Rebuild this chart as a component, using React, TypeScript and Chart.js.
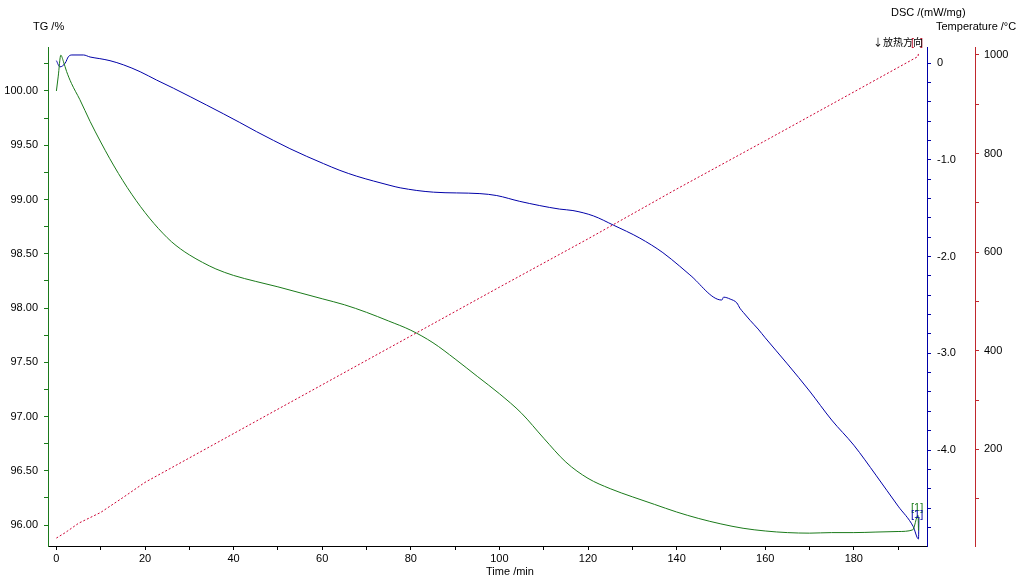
import React, { useEffect, useRef } from 'react';
import { Chart, registerables } from 'chart.js';

Chart.register(...registerables);

// TG curve (time /min, TG /%)
const tgTime = [0, 0.4, 1.0, 1.6, 2.3, 3.4, 5.3, 7.6, 10, 12, 14, 16, 18, 20, 22, 24, 26, 28, 30, 33, 36, 40, 45, 50, 55, 60, 65, 70, 75, 80, 85, 90, 95, 100, 105, 110, 115, 120, 125, 130, 135, 140, 145, 150, 155, 160, 165, 170, 175, 180, 185, 190, 193.3, 194.5, 194.6];
const tgValues = [100.0, 100.13, 100.33, 100.27, 100.18, 100.07, 99.92, 99.72, 99.53, 99.38, 99.24, 99.11, 98.99, 98.88, 98.78, 98.69, 98.61, 98.545, 98.49, 98.42, 98.36, 98.3, 98.245, 98.195, 98.14, 98.085, 98.03, 97.96, 97.88, 97.795, 97.68, 97.53, 97.37, 97.21, 97.03, 96.8, 96.58, 96.43, 96.335, 96.26, 96.19, 96.12, 96.06, 96.01, 95.97, 95.945, 95.93, 95.925, 95.93, 95.93, 95.935, 95.94, 95.955, 96.09, 95.95];

// DSC curve (time /min, DSC /(mW/mg))
const dscTime = [0, 0.8, 2.0, 2.7, 3.5, 6.1, 7.6, 9.8, 12.1, 15.2, 18.9, 22.6, 26.4, 30.2, 33.9, 37.7, 41.4, 45.2, 49.0, 52.7, 56.5, 60.3, 64.0, 67.8, 71.6, 75.3, 77.6, 85.1, 95.6, 99.4, 104.6, 113.6, 116.6, 121.2, 125.7, 131.7, 136.9, 140.7, 143.0, 150.2, 150.6, 152.1, 153.6, 154.3, 155.1, 156.6, 158.4, 160, 165, 170, 175, 180, 185, 190, 193.4, 194.6, 194.7];
const dscValues = [0.024, -0.04, 0.0, 0.065, 0.083, 0.083, 0.062, 0.045, 0.024, -0.02, -0.09, -0.176, -0.26, -0.348, -0.435, -0.525, -0.615, -0.71, -0.8, -0.885, -0.965, -1.04, -1.11, -1.17, -1.22, -1.265, -1.29, -1.335, -1.35, -1.37, -1.43, -1.51, -1.525, -1.58, -1.675, -1.81, -1.96, -2.1, -2.19, -2.45, -2.42, -2.44, -2.48, -2.535, -2.58, -2.66, -2.75, -2.84, -3.11, -3.39, -3.69, -3.95, -4.26, -4.58, -4.79, -4.92, -4.7];

// Temperature curve (time /min, Temperature /°C)
const tempTime = [0, 2, 5, 10, 15, 20, 40, 60, 80, 100, 120, 140, 160, 180, 194.5, 194.6];
const tempValues = [20, 31, 50, 72, 102, 133, 232, 331, 430, 529, 627, 728, 826, 925, 997, 1004];

// Axis ticks
const timeTicks = [0, 10, 20, 30, 40, 50, 60, 70, 80, 90, 100, 110, 120, 130, 140, 150, 160, 170, 180, 190];
const timeLabels = [0, 20, 40, 60, 80, 100, 120, 140, 160, 180];
const tgTicks = [96.0, 96.25, 96.5, 96.75, 97.0, 97.25, 97.5, 97.75, 98.0, 98.25, 98.5, 98.75, 99.0, 99.25, 99.5, 99.75, 100.0, 100.25];
const tgLabels = [96.0, 96.5, 97.0, 97.5, 98.0, 98.5, 99.0, 99.5, 100.0];
const dscTicks = [0, -0.2, -0.4, -0.6, -0.8, -1.0, -1.2, -1.4, -1.6, -1.8, -2.0, -2.2, -2.4, -2.6, -2.8, -3.0, -3.2, -3.4, -3.6, -3.8, -4.0, -4.2, -4.4, -4.6, -4.8];
const dscLabels = [0, -1.0, -2.0, -3.0, -4.0];
const tempTicks = [100, 200, 300, 400, 500, 600, 700, 800, 900, 1000];
const tempLabels = [200, 400, 600, 800, 1000];

const zip = (xs: number[], ys: number[]) => xs.map((x, i) => ({ x, y: ys[i] }));
const has = (list: number[], v: number) => list.some((l) => Math.abs(l - v) < 1e-6);

const FONT = '"Liberation Sans", Arial, sans-serif';

const textPlugin = {
  id: 'textPlugin',
  afterDraw(chart: any) {
    const ctx = chart.ctx as CanvasRenderingContext2D;
    ctx.save();
    ctx.textBaseline = 'middle';
    ctx.font = '11px ' + FONT;
    ctx.fillStyle = '#000';
    ctx.textAlign = 'left';
    ctx.fillText('TG /%', 33, 26.5);
    ctx.fillText('DSC /(mW/mg)', 891, 12.5);
    ctx.fillText('Temperature /°C', 936, 26.5);
    ctx.textAlign = 'center';
    ctx.fillText('Time /min', 510, 572);
    // exo direction
    ctx.textAlign = 'left';
    ctx.font = '11px ' + FONT;
    ctx.fillStyle = '#c0102a';
    ctx.fillText('[', 911, 42.5);
    ctx.fillText(']', 920, 42.5);
    ctx.fillStyle = '#000';
    ctx.font = '10px "Noto Sans CJK SC", sans-serif';
    ctx.fillText('↓放热方向', 873, 42.5);
    // curve markers
    ctx.font = '11px ' + FONT;
    ctx.fillStyle = '#1a7a1a';
    ctx.fillText('[1]', 911, 508);
    ctx.fillStyle = '#0000a8';
    ctx.fillText('[1]', 911, 515);
    ctx.restore();
  },
};

const setTicks = (values: number[]) => (scale: any) => {
  scale.ticks = values.map((v) => ({ value: v }));
};

export default function App() {
  const ref = useRef<HTMLCanvasElement>(null);
  useEffect(() => {
    Chart.defaults.font.family = FONT;
    Chart.defaults.font.size = 11;
    Chart.defaults.color = '#000';
    const chart = new Chart(ref.current as HTMLCanvasElement, {
      type: 'line',
      data: {
        datasets: [
          {
            data: zip(tempTime, tempValues),
            yAxisID: 'yT',
            borderColor: '#cc0033',
            borderDash: [2, 2],
            borderWidth: 1,
            pointRadius: 0,
            tension: 0,
          },
          {
            data: zip(tgTime, tgValues),
            yAxisID: 'yTG',
            borderColor: '#1a7a1a',
            borderWidth: 1,
            pointRadius: 0,
            cubicInterpolationMode: 'monotone',
          },
          {
            data: zip(dscTime, dscValues),
            yAxisID: 'yDSC',
            borderColor: '#0000a8',
            borderWidth: 1,
            pointRadius: 0,
            cubicInterpolationMode: 'monotone',
          },
        ],
      },
      options: {
        responsive: false,
        animation: false,
        events: [],
        layout: { padding: { top: 47, left: 0, right: 0, bottom: 0 } },
        plugins: { legend: { display: false }, tooltip: { enabled: false } },
        scales: {
          x: {
            type: 'linear',
            position: 'bottom',
            min: -1.896,
            max: 196.52,
            afterFit: (s: any) => { s.height = 40; },
            afterBuildTicks: setTicks(timeTicks),
            grid: { drawOnChartArea: false, tickLength: 4, color: '#000' },
            border: { color: '#000' },
            ticks: {
              autoSkip: false,
              maxRotation: 0,
              padding: 2,
              callback: (v: any) => (has(timeLabels, Number(v)) ? String(v) : ''),
            },
          },
          yTG: {
            type: 'linear',
            position: 'left',
            min: 95.8065,
            max: 100.4055,
            afterFit: (s: any) => { s.width = 48; },
            afterBuildTicks: setTicks(tgTicks),
            grid: { drawOnChartArea: false, tickLength: 4, color: '#1a7a1a' },
            border: { color: '#1a7a1a' },
            ticks: {
              autoSkip: false,
              padding: 6,
              callback: (v: any) => (has(tgLabels, Number(v)) ? Number(v).toFixed(2) : ''),
            },
          },
          yDSC: {
            type: 'linear',
            position: 'right',
            weight: 0,
            min: -4.992,
            max: 0.1654,
            afterFit: (s: any) => { s.width = 48; },
            afterBuildTicks: setTicks(dscTicks),
            grid: { drawOnChartArea: false, tickLength: 4, color: '#0000a8' },
            border: { color: '#0000a8' },
            ticks: {
              autoSkip: false,
              padding: 6,
              callback: (v: any) => {
                const n = Number(v);
                if (!has(dscLabels, n)) return '';
                return Math.abs(n) < 1e-9 ? '0' : n.toFixed(1);
              },
            },
          },
          yT: {
            type: 'linear',
            position: 'right',
            weight: 1,
            min: 3.9,
            max: 1016.2,
            afterFit: (s: any) => { s.width = 45; },
            afterBuildTicks: setTicks(tempTicks),
            grid: { drawOnChartArea: false, tickLength: 4, color: '#c0282d' },
            border: { color: '#c0282d' },
            ticks: {
              autoSkip: false,
              padding: 5,
              callback: (v: any) => (has(tempLabels, Number(v)) ? String(v) : ''),
            },
          },
        },
      } as any,
      plugins: [textPlugin],
    });
    return () => chart.destroy();
  }, []);
  return (
    <div style={{ position: 'fixed', left: 0, top: 0, width: 1020, height: 586, background: '#fff' }}>
      <canvas ref={ref} width={1020} height={586} style={{ display: 'block', width: 1020, height: 586 }} />
    </div>
  );
}
